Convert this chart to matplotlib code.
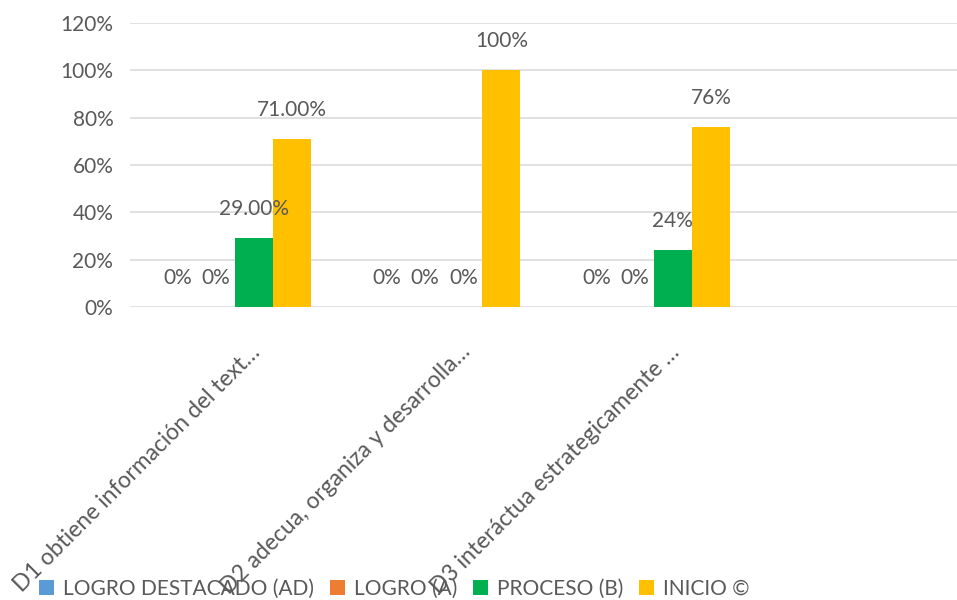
import matplotlib
matplotlib.use('Agg')

import numpy as np
import matplotlib.pyplot as plt
import matplotlib.ticker as mticker

plt.rcParams['font.family'] = ['Lato', 'DejaVu Sans']

# categories (Excel truncated them with an ellipsis)
categories = ['D1 obtiene información del text…',
              'D2 adecua, organiza y desarrolla…',
              'D3 interáctua estrategicamente …']

# series values (share of students)
series_names = ['LOGRO DESTACADO (AD)', 'LOGRO (A)', 'PROCESO (B)', 'INICIO ©']
logro_destacado = [0.00, 0.00, 0.00]
logro = [0.00, 0.00, 0.00]
proceso = [0.29, 0.00, 0.24]
inicio = [0.71, 1.00, 0.76]

# data labels as printed on the chart
labels_ad = ['0%', '0%', '0%']
labels_a = ['0%', '0%', '0%']
labels_b = ['29.00%', '0%', '24%']
labels_i = ['71.00%', '100%', '76%']

colors = ['#5B9BD5', '#ED7D31', '#00B050', '#FFC000']
text_color = '#595959'

fig = plt.figure(figsize=(9.57, 6.0), dpi=100)
ax = fig.add_axes([130/957, 293/600, 1 - 130/957, 284/600])

x = np.arange(len(categories))
w = 1 / 5.5  # gap width 150%
values = [logro_destacado, logro, proceso, inicio]
labels = [labels_ad, labels_a, labels_b, labels_i]

bars = []
for k, (vals, labs) in enumerate(zip(values, labels)):
    pos = x + (k - 1.5) * w
    b = ax.bar(pos, vals, width=w, color=colors[k], label=series_names[k], zorder=3)
    bars.append(b)
    for px, v, t in zip(pos, vals, labs):
        ax.annotate(t, xy=(px, v), xytext=(0, 21), textcoords='offset points',
                    ha='center', va='center', fontsize=15, color=text_color, zorder=4)

ax.set_ylim(0, 1.2)
ax.set_xlim(-0.5, -0.5 + 827 / 209.5)
ax.yaxis.set_major_locator(mticker.MultipleLocator(0.2))
ax.yaxis.set_major_formatter(mticker.FuncFormatter(lambda v, pos: f'{v*100:.0f}%'))
ax.tick_params(axis='y', length=0, pad=12, labelsize=15, labelcolor=text_color)
ax.set_xticks([])
ax.grid(axis='y', color='#D9D9D9', linewidth=1.1)
ax.set_axisbelow(True)
for s in ax.spines.values():
    s.set_visible(False)

# rotated category labels
for i, cat in enumerate(categories):
    ax.annotate(cat, xy=(x[i], 0), xytext=(16, -30), textcoords='offset points',
                rotation=45, rotation_mode='anchor', ha='right', va='center',
                fontsize=16.5, color=text_color, annotation_clip=False)

fig.legend(handles=bars, labels=series_names, loc='lower left',
           bbox_to_anchor=(29/957, -9/600), ncol=4, frameon=False,
           fontsize=15, handlelength=0.7, handleheight=0.7,
           handletextpad=0.45, columnspacing=0.75, borderpad=0, labelcolor=text_color)

plt.savefig('out.png', dpi=100)
